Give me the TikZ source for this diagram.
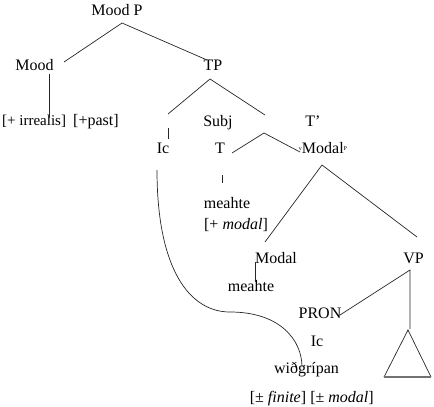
\documentclass[tikz,border=0pt]{standalone}
\usepackage{fontspec}
\setmainfont{Liberation Serif}
\begin{document}
\begin{tikzpicture}[x=1pt,y=-1pt,
  lbl/.style={anchor=base,inner sep=0pt,font=\fontsize{16}{19}\selectfont},
  edge/.style={draw=black!85,line width=0.7pt}]
\useasboundingbox (0,0) rectangle (434,407);
% labels
\node[lbl] (moodp) at (117,15) {Mood P};
\node[lbl] (mood) at (34.5,70) {Mood};
\node[lbl] (tp) at (213,70) {TP};
\node[lbl,anchor=base west,font=\fontsize{15}{18}\selectfont] (irr) at (2,125) {[+ irrealis]};
\node[lbl,anchor=base west] (past) at (73,125) {[+past]};
\node[lbl] (subj) at (218,126) {Subj};
\node[lbl] (tbar) at (313,126) {T'};
\node[lbl] (ic1) at (163,153) {Ic};
\node[lbl] (t) at (220,153) {T};
\node[lbl] (modalp) at (323,153) {\raisebox{2.5pt}{\fontsize{6}{6}\selectfont v}Modal\raisebox{2.5pt}{\fontsize{6}{6}\selectfont P}};
\node[lbl] (meahte1) at (227,208) {meahte};
\node[lbl] (plusmodal) at (236,229) {[+ \textit{modal}]};
\node[lbl] (modal) at (276,263) {Modal};
\node[lbl] (meahte2) at (251,291) {meahte};
\node[lbl] (vp) at (413.5,263) {VP};
\node[lbl] (pron) at (320,318) {PRON};
\node[lbl] (ic2) at (317,346) {Ic};
\node[lbl] (with) at (306.5,373) {wiðgrípan};
\node[lbl] (finite) at (278,402) {[± \textit{finite}]};
\node[lbl] (pmmodal) at (342,402) {[± \textit{modal}]};
% connector end points
\coordinate (a0) at (122,23);
\coordinate (a1) at (64,62);
\coordinate (a2) at (207,60);
\coordinate (b0) at (49,74);
\coordinate (b1) at (49,118);
\coordinate (c0) at (210,79);
\coordinate (c1) at (168,114);
\coordinate (c2) at (265,115);
\coordinate (d0) at (168,128);
\coordinate (d1) at (168,139);
\coordinate (e0) at (264,133);
\coordinate (e1) at (232,153);
\coordinate (e2) at (300,152);
\coordinate (f0) at (222,175);
\coordinate (f1) at (222,183);
\coordinate (g0) at (322,165);
\coordinate (g1) at (265,242);
\coordinate (g2) at (417,237);
\coordinate (h0) at (255,262);
\coordinate (h1) at (255,282);
\coordinate (i0) at (410,270);
\coordinate (i1) at (340,315);
\coordinate (i2) at (410,329);
\coordinate (tr0) at (408,330);
\coordinate (tr1) at (384,377);
\coordinate (tr2) at (431,377);
\coordinate (k0) at (157,170);
\coordinate (k1) at (230,312);
\coordinate (k2) at (302,367);
% connectors
\draw[edge] (a1) -- (a0) -- (a2);
\draw[edge] (b0) -- (b1);
\draw[edge] (c1) -- (c0) -- (c2);
\draw[edge] (d0) -- (d1);
\draw[edge] (e1) -- (e0) -- (e2);
\draw[edge] (f0) -- (f1);
\draw[edge] (g1) -- (g0) -- (g2);
\draw[edge] (h0) -- (h1);
\draw[edge] (i1) -- (i0) -- (i2);
\draw[edge] (tr1) -- (tr0) -- (tr2);
\draw[draw=black!55,line width=1.4pt] (tr1) -- (tr2);
\draw[edge] (k0) .. controls (157,270) and (190,312) .. (k1)
  .. controls (280,312) and (302,340) .. (k2);
\end{tikzpicture}
\end{document}
